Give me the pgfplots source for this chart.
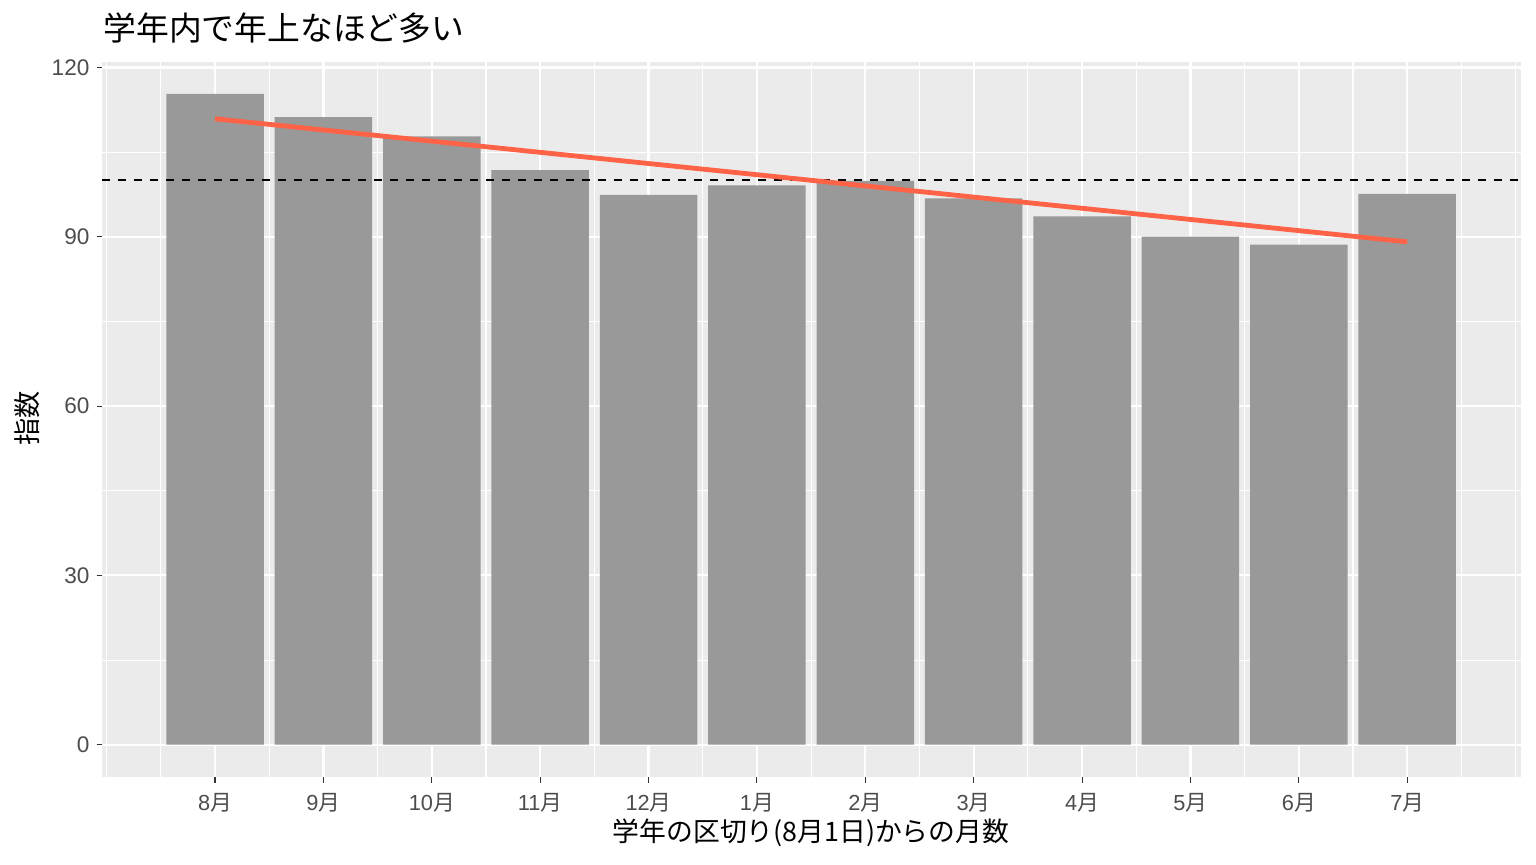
\documentclass[border=0pt]{standalone}
\usepackage{fontspec}
\setmainfont{Liberation Sans}
\newfontfamily\jp{Noto Sans CJK JP}
\usepackage{pgfplots}
\pgfplotsset{compat=1.18}
\definecolor{panel}{HTML}{EBEBEB}
\definecolor{bargrey}{HTML}{999999}
\definecolor{tickgrey}{HTML}{4D4D4D}
\definecolor{tickline}{HTML}{333333}
\definecolor{trend}{HTML}{FF6347}
\begin{document}
\begin{tikzpicture}[x=1pt,y=1pt]
\path[use as bounding box, fill=white] (0,0) rectangle (768,432);
\begin{axis}[
  at={(51pt,43.5pt)}, anchor=south west, scale only axis,
  width=709.5pt, height=357.5pt,
  xmin=-1.043, xmax=12.05, ymin=-5.72, ymax=120.96,
  axis background/.style={fill=panel},
  axis line style={draw=none},
  xtick={0,1,2,3,4,5,6,7,8,9,10,11},
  xticklabels={8{\jp 月},9{\jp 月},10{\jp 月},11{\jp 月},12{\jp 月},1{\jp 月},2{\jp 月},3{\jp 月},4{\jp 月},5{\jp 月},6{\jp 月},7{\jp 月}},
  ytick={0,30,60,90,120},
  minor xtick={-1,-0.5,0.5,1.5,2.5,3.5,4.5,5.5,6.5,7.5,8.5,9.5,10.5,11.5,12},
  minor ytick={15,45,75,105},
  grid=both,
  major grid style={white, line width=1.1pt},
  minor grid style={white, line width=0.55pt},
  tick align=outside, tick pos=left,
  major tick length=2.75pt, minor tick length=0pt,
  tick style={tickline, line width=0.55pt},
  /pgf/number format/assume math mode=true,
  xticklabel style={font=\fontsize{10.9}{12}\selectfont, text=tickgrey, yshift=-2pt},
  yticklabel style={font=\fontsize{11.3}{12}\selectfont, text=tickgrey},
  clip=true,
]
\addplot[ybar, bar width=0.9, fill=bargrey, draw=none] coordinates {
  (0,115.3) (1,111.2) (2,107.8) (3,101.8) (4,97.4) (5,99.1)
  (6,99.9) (7,96.8) (8,93.6) (9,90.0) (10,88.6) (11,97.6)
};
\addplot[black, line width=1pt, dash pattern=on 4pt off 4pt] coordinates {(-1.043,100) (12.05,100)};
\addplot[trend, line width=2.4pt] coordinates {(0,110.9) (11,89.1)};
\end{axis}
\node[anchor=west, font=\jp\fontsize{16.4}{18}\selectfont, inner sep=0pt] at (51.5,418) {学年内で年上なほど多い};
\node[font=\jp\fontsize{13.4}{15}\selectfont, inner sep=0pt] at (405.5,15.5) {学年の区切り(8月1日)からの月数};
\node[rotate=90, font=\jp\fontsize{13.6}{15}\selectfont, inner sep=0pt] at (13.5,223) {指数};
\end{tikzpicture}
\end{document}
